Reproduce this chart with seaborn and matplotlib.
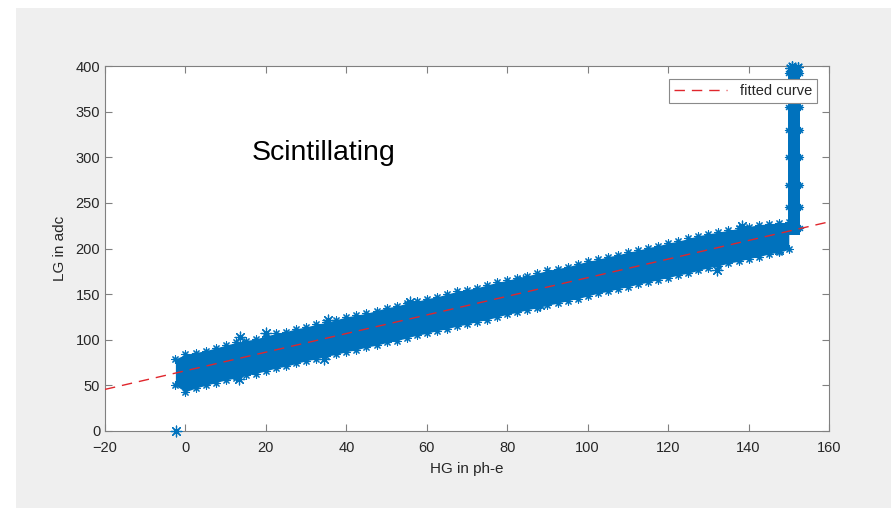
import numpy as np
import pandas as pd
import seaborn as sns
import matplotlib.pyplot as plt
from matplotlib.patches import Rectangle

# ----------------------------
# values
# ----------------------------
band_x = [-2.5, 0, 2.5, 5, 7.5, 10, 12.5, 15, 17.5, 20,
          22.5, 25, 27.5, 30, 32.5, 35, 37.5, 40, 42.5, 45,
          47.5, 50, 52.5, 55, 57.5, 60, 62.5, 65, 67.5, 70,
          72.5, 75, 77.5, 80, 82.5, 85, 87.5, 90, 92.5, 95,
          97.5, 100, 102.5, 105, 107.5, 110, 112.5, 115, 117.5, 120,
          122.5, 125, 127.5, 130, 132.5, 135, 137.5, 140, 142.5, 145,
          147.5, 150]
band_upper = [79, 84, 86, 88, 91, 94, 97, 99, 101, 104,
              107, 109, 112, 114, 117, 119, 122, 125, 127, 129,
              132, 135, 137, 140, 142, 145, 147, 150, 153, 155,
              157, 160, 163, 165, 168, 170, 173, 176, 178, 180,
              183, 186, 188, 191, 193, 196, 198, 201, 203, 206,
              208, 211, 214, 216, 218, 220, 222, 224, 226, 227,
              228, 229]
band_lower = [50, 43, 47, 50, 53, 56, 58, 61, 63, 66,
              69, 71, 74, 77, 79, 82, 84, 87, 89, 92,
              94, 97, 99, 102, 105, 107, 110, 112, 115, 117,
              120, 122, 125, 128, 130, 133, 135, 138, 140, 143,
              145, 148, 151, 153, 156, 158, 161, 163, 166, 168,
              171, 173, 176, 179, 181, 184, 186, 189, 191, 194,
              196, 199]

# vertical column of saturated points at the right end
col_x = [149.8, 152.8]
col_y = [215, 400]
col_top_x = [150.2, 150.9, 151.6, 152.3]
col_top_y = [398, 400, 397, 399]

# isolated points
out_x = [-2.4, 13.6, 13.2, 20.0, 35.5, 34.5, 55.8, 83.8, 88.2, 132.1, 138.3, 147.6]
out_y = [0, 103, 57, 107, 122, 79, 141, 166, 138, 176, 225, 198]

# fitted curve (end points)
fit_x = [-20, 160]
fit_y = [45.6, 229.2]

blue = "#0072BD"
red = "#e0262c"

sns.set_style("white")
plt.rcParams['font.family'] = ['Liberation Sans', 'DejaVu Sans']

fig = plt.figure(figsize=(8.91, 5.08), dpi=100, facecolor="white")
fig.patches.append(Rectangle((16 / 891, 0), 1, 1 - 8 / 508, transform=fig.transFigure,
                             facecolor="#efefef", edgecolor="none", zorder=-10))
ax = fig.add_axes([105 / 891, 1 - 431 / 508, 724 / 891, 365 / 508])
ax.set_facecolor("white")

star = (8, 2, 0)

# dense band of points
ax.fill_between(band_x, band_lower, band_upper, color=blue, linewidth=0, zorder=2)
edges = pd.DataFrame({"x": band_x + band_x, "y": band_upper + band_lower})
sns.scatterplot(data=edges, x="x", y="y", marker=star, s=28, color=blue,
                linewidth=0.8, edgecolor=blue, ax=ax, zorder=3)

# saturated column
ax.fill_between(col_x, col_y[0], col_y[1], color=blue, linewidth=0, zorder=2)
sns.scatterplot(x=col_x * 8, y=[222, 222, 245, 245, 270, 270, 300, 300,
                                 330, 330, 355, 355, 378, 378, 392, 392],
                marker=star, s=20, color=blue, linewidth=0.8, edgecolor=blue,
                ax=ax, zorder=3)
sns.scatterplot(x=col_top_x, y=col_top_y, marker=star, s=45, color=blue,
                linewidth=1.0, edgecolor=blue, ax=ax, zorder=3)
ax.collections[-1].set_clip_on(False)

# isolated points
sns.scatterplot(x=out_x, y=out_y, marker=star, s=60, color=blue,
                linewidth=0.9, edgecolor=blue, ax=ax, zorder=3)
ax.collections[-1].set_clip_on(False)

# fitted line
sns.lineplot(x=fit_x, y=fit_y, color=red, linewidth=1.0, ax=ax, zorder=4)
fit_line = ax.lines[-1]
fit_line.set_dashes([7.5, 5])
fit_line.set_label("fitted curve")

leg = ax.legend(handles=[fit_line], loc="upper right", fontsize=10.5, frameon=True,
                fancybox=False, framealpha=1, borderpad=0.35, handlelength=3.6,
                handletextpad=0.9, borderaxespad=0,
                bbox_to_anchor=((817 - 105) / 724, (431 - 79) / 365))
leg.get_frame().set_edgecolor("#8a8a8a")
leg.get_frame().set_linewidth(0.8)
leg.set_zorder(10)

ax.text(16.5, 305, "Scintillating", fontsize=20.5, va="center", ha="left", color="black")

ax.set_xlim(-20, 160)
ax.set_ylim(0, 400)
ax.set_xticks(np.arange(-20, 161, 20))
ax.set_yticks(np.arange(0, 401, 50))
ax.set_xlabel("HG in ph-e", fontsize=11, color="#262626", labelpad=5)
ax.set_ylabel("LG in adc", fontsize=11, color="#262626", labelpad=6)
ax.tick_params(axis="x", pad=7)
ax.tick_params(direction="in", length=5, width=0.8, color="#808080",
               labelsize=10.5, labelcolor="#262626", top=True, right=True,
               bottom=True, left=True)
for s in ax.spines.values():
    s.set_color("#808080")
    s.set_linewidth(0.8)
    s.set_visible(True)

fig.savefig("out.png", dpi=100)
